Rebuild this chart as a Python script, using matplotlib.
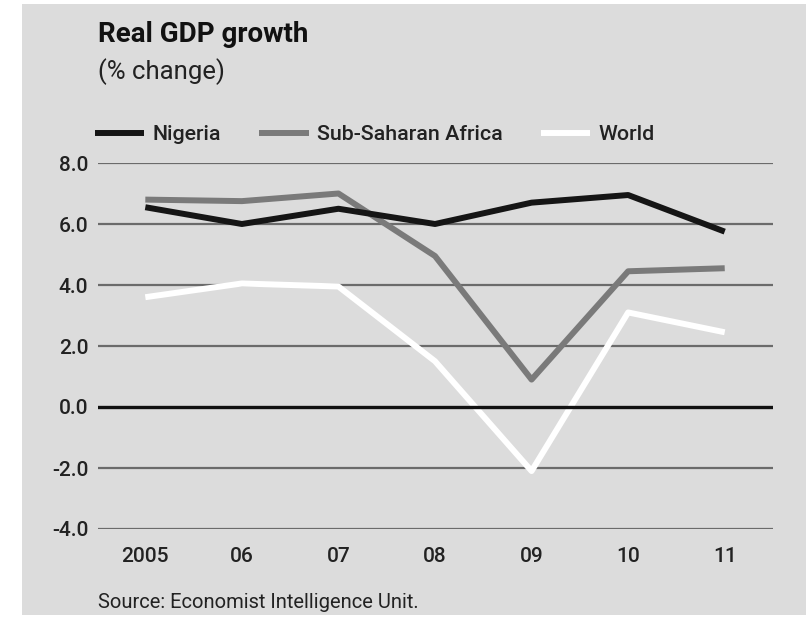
#Real GDP growth line chart
import matplotlib.pyplot as plt
from matplotlib.patches import Rectangle

years = ["2005", "06", "07", "08", "09", "10", "11"]
nigeria = [6.55, 6.0, 6.5, 6.0, 6.7, 6.95, 5.75]
ssa = [6.8, 6.75, 7.0, 4.95, 0.9, 4.45, 4.55]
world = [3.6, 4.05, 3.95, 1.5, -2.1, 3.1, 2.45]
yticks = [-4.0, -2.0, 0.0, 2.0, 4.0, 6.0, 8.0]

plt.rcParams['font.family'] = ['Roboto', 'DejaVu Sans']

fig = plt.figure(figsize=(8.06, 6.17), dpi=100)
fig.patch.set_facecolor("white")
#grey panel behind everything
fig.patches.append(Rectangle((22/806, 0.004), 1, 0.99, transform=fig.transFigure,
                             facecolor="#dcdcdc", edgecolor="none", zorder=-5))

ax = fig.add_axes([98/806, 88/617, 675/806, 366/617])
ax.set_zorder(2)
ax.set_facecolor("none")
x = list(range(len(years)))

#gridlines, zero line sits over the data
for t in yticks:
    if t == 0:
        ax.axhline(t, color="#111111", lw=2.4, zorder=4)
    else:
        ax.axhline(t, color="#6b6b6b", lw=1.6, zorder=1)

ax.plot(x, nigeria, color="#151515", lw=4.3, label="Nigeria", zorder=3, solid_capstyle="butt")
ax.plot(x, ssa, color="#7a7a7a", lw=4.3, label="Sub-Saharan Africa", zorder=2, solid_capstyle="butt")
ax.plot(x, world, color="white", lw=4.3, label="World", zorder=2, solid_capstyle="butt")

ax.set_xlim(-0.49, 6.5)
ax.set_ylim(-4, 8)
ax.set_yticks(yticks)
ax.set_yticklabels(["%.1f" % t for t in yticks])
ax.set_xticks(x)
ax.set_xticklabels(years)
ax.tick_params(axis="both", length=0, labelsize=15, colors="#222222")
ax.tick_params(axis="y", pad=7)
ax.tick_params(axis="x", pad=13)
for lab in ax.get_xticklabels() + ax.get_yticklabels():
    lab.set_fontweight("medium")
for s in ax.spines.values():
    s.set_visible(False)

leg = fig.legend(loc="center left", bbox_to_anchor=(95/806, (617-135)/617), ncol=3,
                 frameon=False, fontsize=15.4, handlelength=2.3, handletextpad=0.38,
                 columnspacing=1.8, borderpad=0, borderaxespad=0, labelcolor="#222222")
for t in leg.get_texts():
    t.set_fontweight("medium")

fig.text(98/806, (617-35)/617, "Real GDP growth", fontsize=20, fontweight="bold",
         va="center", ha="left", color="#111111")
fig.text(98/806, (617-72)/617, "(% change)", fontsize=18.5, va="center", ha="left", color="#222222")
fig.text(98/806, (617-602)/617, "Source: Economist Intelligence Unit.", fontsize=14.5,
         va="center", ha="left", color="#222222")

fig.savefig("out.png", dpi=100)
